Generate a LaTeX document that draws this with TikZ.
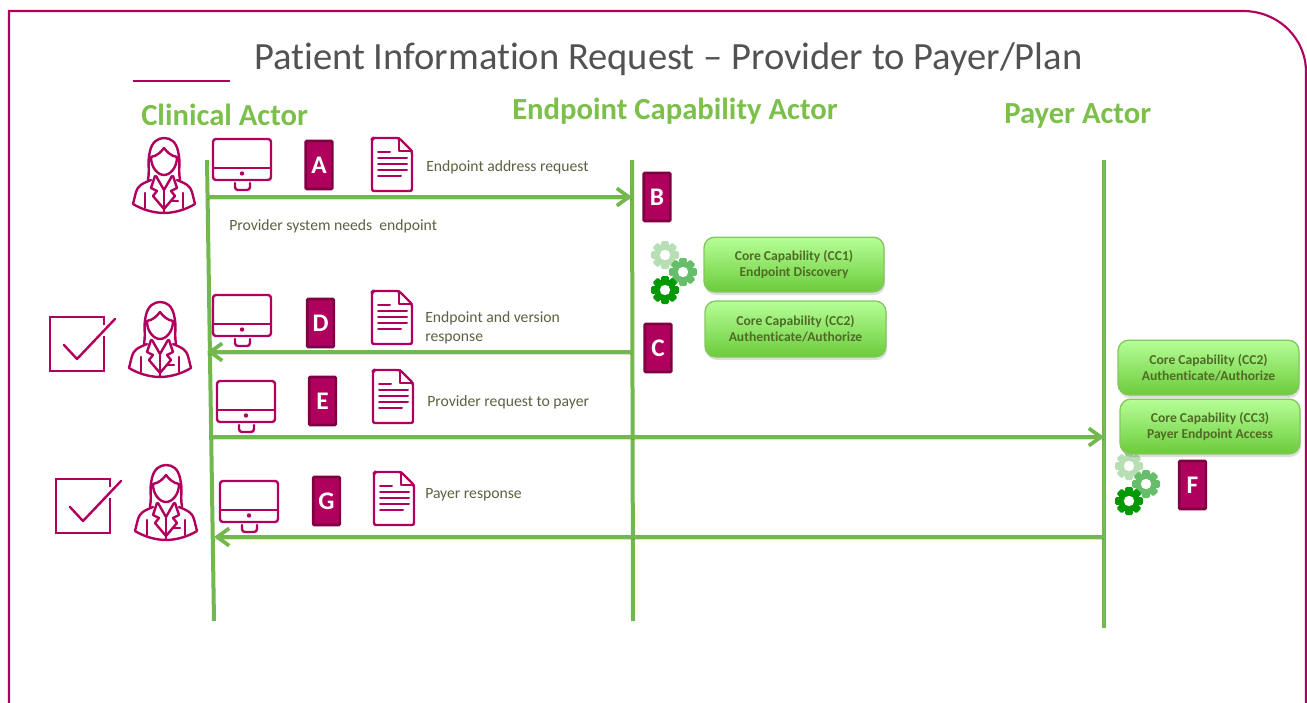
\documentclass[tikz,border=0pt]{standalone}
\usepackage{fontspec}
\setmainfont[RawFeature={-liga}]{Carlito}
\usetikzlibrary{arrows.meta}
\definecolor{crim}{HTML}{B0005E}
\definecolor{crimdark}{HTML}{7F0040}
\definecolor{lnG}{HTML}{72B84E}
\definecolor{hdG}{HTML}{7DBF4B}
\definecolor{lblC}{HTML}{5B6140}
\definecolor{ccT}{HTML}{4F6B25}
\definecolor{ccTop}{HTML}{B6FF98}
\definecolor{ccBot}{HTML}{6CCB3A}
\definecolor{ccE}{HTML}{84C75F}
\definecolor{gearL}{HTML}{B8DEB4}
\definecolor{gearM}{HTML}{66BE6A}
\definecolor{gearD}{HTML}{009A00}
\tikzset{
  iconline/.style={draw=crim,line width=1.8pt,line join=round,line cap=round,fill=none},
  thinline/.style={draw=crim,line width=1.5pt,line cap=round},
  lifeline/.style={draw=lnG,line width=3pt},
  msg/.style={draw=lnG,line width=3pt,-{Straight Barb[length=9pt,width=13pt,line width=2.8pt]},
    preaction={draw=black,draw opacity=.12,-,transform canvas={yshift=-1.6pt}}},
  letterbox/.style={draw=crimdark,line width=2pt,fill=crim,rounded corners=.8pt,minimum width=20pt,minimum height=36pt,inner sep=0pt,text=white,font=\fontsize{19}{19}\selectfont\bfseries},
  ccbox/.style={draw=ccE,line width=1pt,rounded corners=8pt,top color=ccTop,bottom color=ccBot,inner sep=0pt,align=center,text=ccT,font=\fontsize{10.2}{12.2}\selectfont\bfseries},
  ccshadow/.style={fill=black,fill opacity=.13,rounded corners=8pt},
  hdr/.style={text=hdG,font=\fontsize{23}{23}\selectfont\bfseries,anchor=west,inner sep=0pt},
  lbl/.style={text=lblC,font=\fontsize{11.75}{14}\selectfont,anchor=west,inner sep=0pt,align=left},
  person/.pic={
    \draw[iconline] (15,42) .. controls (17,30) and (14,25) .. (17,13) .. controls (19,4) and (25,0) .. (31,0) .. controls (38,0) and (43,4) .. (45,13) .. controls (48,25) and (45,30) .. (47,42);
    \draw[iconline] (18,19) .. controls (24,18) and (28,14) .. (31,10) .. controls (34,14) and (38,18) .. (44,19);
    \draw[iconline] (18,19) .. controls (18,30) and (25,37) .. (31,37) .. controls (37,37) and (44,30) .. (44,19);
    \draw[iconline] (18,42) .. controls (8,46) and (5,48) .. (3,54) -- (0,66) .. controls (8,71) and (20,75) .. (31,75) .. controls (42,75) and (54,71) .. (62,66) -- (59,54) .. controls (57,48) and (54,46) .. (44,42);
    \draw[iconline] (22,38) -- (18,50) -- (24,53) -- (20,58) -- (31,71) -- (42,58) -- (38,53) -- (44,50) -- (40,38);
    \draw[iconline] (23,38) -- (31,52) -- (39,38);
    \draw[iconline] (31,52) -- (31,75);
    \draw[iconline] (12,55) -- (12,70) (50,55) -- (50,70) (38,63) -- (45,63);
  },
  monitor/.pic={
    \draw[iconline,rounded corners=2.2pt] (0,0) rectangle (58,41);
    \draw[iconline] (0,29) -- (58,29);
    \fill[crim] (29,34.5) circle (2.2);
    \draw[iconline,rounded corners=2.2pt] (22,44) -- (22,51) -- (37,51) -- (37,44);
  },
  docicon/.pic={
    \draw[iconline,rounded corners=1.5pt] (27,0) -- (1,0) -- (0,1) -- (0,53) -- (40,53) -- (40,13) -- cycle;
    \draw[iconline] (27,0) -- (27,13) -- (40,13);
    \draw[thinline] (6,14) -- (18,14) (6,19.5) -- (35,19.5) (6,25.5) -- (35,25.5) (6,32) -- (35,32) (6,38) -- (29,38);
  },
  checkbox/.pic={
    \draw[iconline,line cap=butt,line join=miter] (54,8) -- (54,0) -- (0,0) -- (0,54) -- (54,54) -- (54,19);
    \draw[iconline] (14,28) -- (27,42) -- (65,2);
  },
  gearpic/.pic={
    \foreach \a in {0,45,...,315}{\fill[rotate=\a,gearfill,rounded corners=1pt] (-3.8,-14) rectangle (3.8,0);}
    \fill[gearfill] (0,0) circle (11);
    \fill[white] (0,0) circle (5.2);
  },
  gearL/.style={gearfill/.style={fill=gearL}},
  gearM/.style={gearfill/.style={fill=gearM}},
  gearD/.style={gearfill/.style={fill=gearD}},
}
\begin{document}
\begin{tikzpicture}[x=0.75pt,y=-0.75pt]
\useasboundingbox (0,0) rectangle (1307,703);
% frame
\coordinate (fa) at (9,703); \coordinate (fb) at (9,11); \coordinate (fc) at (1243,11);
\coordinate (fd) at (1306,72); \coordinate (fe) at (1306,703);
\draw[crim,line width=1.6pt] (fa) -- (fb) -- (fc) .. controls (1278,11) and (1306,38) .. (fd) -- (fe);
% title
\node[anchor=west,inner sep=0pt,text=black!68,font=\fontsize{28.9}{29}\selectfont] (title) at (254,59) {Patient Information Request – Provider to Payer/Plan};
\coordinate (rulea) at (133,81); \coordinate (ruleb) at (230,81);
\draw[crim,line width=1.8pt] (rulea) -- (ruleb);
% headers
\node[hdr] (hclin) at (141,114.5) {Clinical Actor};
\node[hdr] (hend) at (512,111.5) {Endpoint Capability Actor};
\node[hdr] (hpay) at (1004,115.5) {Payer Actor};
% lifelines
\coordinate (cl1) at (207,160); \coordinate (cl2) at (214,621);
\coordinate (ep1) at (632,160); \coordinate (ep2) at (633,621);
\coordinate (pa1) at (1104,160); \coordinate (pa2) at (1104,628);
\draw[lifeline] (cl1) -- (cl2);
\draw[lifeline] (ep1) -- (ep2);
\draw[lifeline] (pa1) -- (pa2);
% messages
\coordinate (ma1) at (207,197); \coordinate (ma2) at (632,197);
\coordinate (md1) at (632,352); \coordinate (md2) at (207,352);
\coordinate (me1) at (212,437); \coordinate (me2) at (1104,437);
\coordinate (mg1) at (1104,537); \coordinate (mg2) at (214,537);
\draw[msg] (ma1) -- (ma2);
\draw[msg] (md1) -- (md2);
\draw[msg] (me1) -- (me2);
\draw[msg] (mg1) -- (mg2);
% persons
\pic at (133,138) {person};
\pic at (129,302) {person};
\pic at (135,465) {person};
\pic at (50,317) {checkbox};
\pic at (56,479) {checkbox};
% monitors
\pic at (213,139) {monitor};
\pic at (213,295) {monitor};
\pic at (217,381) {monitor};
\pic at (220,481) {monitor};
% documents
\pic at (372,138) {docicon};
\pic at (372,291) {docicon};
\pic at (373,370) {docicon};
\pic at (374,472) {docicon};
% letters
\node[letterbox] (la) at (319,165) {A};
\node[letterbox] (lb) at (657,197) {B};
\node[letterbox] (lc) at (658,348) {C};
\node[letterbox] (ld) at (320.5,323) {D};
\node[letterbox] (le) at (322.5,401) {E};
\node[letterbox] (lf) at (1192.5,485) {F};
\node[letterbox] (lg) at (326.5,501) {G};
% labels
\node[lbl] (t1) at (426,167) {Endpoint address request};
\node[lbl] (t2) at (229,226) {Provider system needs\ \ endpoint};
\node[lbl] (t3) at (425,328) {Endpoint and version\\response};
\node[lbl] (t4) at (427,402) {Provider request to payer};
\node[lbl] (t5) at (425,494.5) {Payer response};
% gears
\pic[gearL] at (665,255) {gearpic};
\pic[gearM] at (683,272) {gearpic};
\pic[gearD] at (665,290) {gearpic};
\pic[gearL] at (1129,466) {gearpic};
\pic[gearM] at (1146,484) {gearpic};
\pic[gearD] at (1129,501) {gearpic};
% capability boxes
\fill[ccshadow] (705,241) rectangle (885,295);
\fill[ccshadow] (706,305) rectangle (887,360);
\fill[ccshadow] (1119,344) rectangle (1300,398);
\fill[ccshadow] (1121,403) rectangle (1301,457);
\node[ccbox,minimum width=135pt,minimum height=41pt] (cc1) at (794,264.5) {Core Capability (CC1)\\Endpoint Discovery};
\node[ccbox,minimum width=135.7pt,minimum height=42pt] (cc2) at (795.5,329) {Core Capability (CC2)\\Authenticate/Authorize};
\node[ccbox,minimum width=135.7pt,minimum height=41pt] (cc2b) at (1208.5,367.5) {Core Capability (CC2)\\Authenticate/Authorize};
\node[ccbox,minimum width=135pt,minimum height=41pt] (cc3) at (1210,426.5) {Core Capability (CC3)\\Payer Endpoint Access};
\end{tikzpicture}
\end{document}
